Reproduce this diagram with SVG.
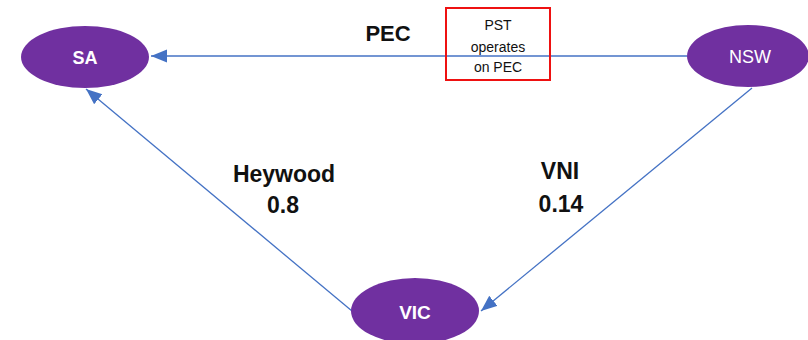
<svg xmlns="http://www.w3.org/2000/svg" width="808" height="340" viewBox="0 0 808 340">
  <style>
    .node { fill: #7030A0; }
    .nlabel { fill: #ffffff; font-family: "Liberation Sans", Arial, sans-serif; text-anchor: middle; }
    .link { stroke: #4472C4; stroke-width: 1.3; fill: none; marker-end: url(#arrow); }
    .elabel { fill: #111111; font-family: "Liberation Sans", Arial, sans-serif; font-weight: bold; text-anchor: middle; }
    .note { fill: #111111; font-family: "Liberation Sans", Arial, sans-serif; font-size: 14px; text-anchor: middle; }
  </style>
  <defs>
    <marker id="arrow" markerUnits="userSpaceOnUse" markerWidth="17" markerHeight="14" refX="16" refY="6.5" orient="auto">
      <path d="M0,0 L16,6.5 L0,13 Z" fill="#4472C4"/>
    </marker>
  </defs>
  <rect width="808" height="340" fill="#ffffff"/>

  <g id="connectors">
    <line class="link" x1="687" y1="56" x2="151" y2="56"/>
    <line class="link" x1="352" y1="311" x2="86" y2="89"/>
    <line class="link" x1="752" y1="88" x2="481" y2="311"/>
  </g>

  <g id="edge-labels">
    <text class="elabel" x="388" y="41" font-size="22">PEC</text>
    <text class="elabel" x="284" y="182" font-size="23">Heywood</text>
    <text class="elabel" x="283" y="213" font-size="23">0.8</text>
    <text class="elabel" x="560" y="179" font-size="23">VNI</text>
    <text class="elabel" x="561" y="212" font-size="23">0.14</text>
  </g>

  <g id="pst-note">
    <rect x="446" y="8" width="104" height="72" fill="none" stroke="#EE1111" stroke-width="2"/>
    <text class="note" x="498" y="30">PST</text>
    <text class="note" x="498" y="52">operates</text>
    <text class="note" x="498" y="72">on PEC</text>
  </g>

  <g id="node-SA">
    <ellipse class="node" cx="85" cy="57" rx="64" ry="31"/>
    <text class="nlabel" x="85" y="64" font-size="18" font-weight="bold">SA</text>
  </g>

  <g id="node-NSW">
    <ellipse class="node" cx="748" cy="56" rx="61" ry="31"/>
    <text class="nlabel" x="750" y="63" font-size="18" fill="#eeeeee">NSW</text>
  </g>

  <g id="node-VIC">
    <ellipse class="node" cx="415" cy="311" rx="64" ry="33"/>
    <text class="nlabel" x="415" y="319" font-size="19" font-weight="bold">VIC</text>
  </g>
</svg>
